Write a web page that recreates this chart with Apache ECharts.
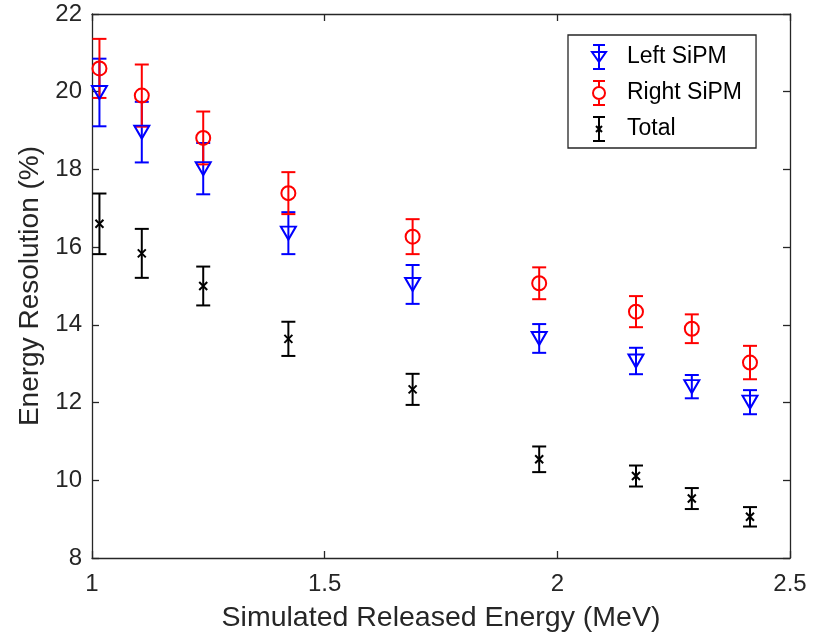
<!DOCTYPE html>
<html>
<head>
<meta charset="utf-8">
<script src="https://cdn.jsdelivr.net/npm/echarts@6/dist/echarts.min.js"></script>
<style>html,body{margin:0;padding:0;background:#fff}#c{width:817px;height:635px}</style>
</head>
<body>
<div id="c"></div>
<script>
const energies = [1.016, 1.107, 1.239, 1.422, 1.689, 1.961, 2.169, 2.289, 2.414];
const leftVals = [19.98, 18.96, 18.02, 16.36, 15.04, 13.65, 13.07, 12.41, 12.01];
const leftErr  = [0.87, 0.78, 0.66, 0.54, 0.50, 0.37, 0.34, 0.30, 0.31];
const rightVals = [20.60, 19.90, 18.81, 17.39, 16.27, 15.07, 14.34, 13.90, 13.03];
const rightErr  = [0.76, 0.80, 0.68, 0.54, 0.45, 0.41, 0.40, 0.37, 0.43];
const totalVals = [16.60, 15.84, 15.00, 13.64, 12.34, 10.54, 10.11, 9.53, 9.06];
const totalErr  = [0.78, 0.63, 0.50, 0.44, 0.40, 0.33, 0.27, 0.27, 0.25];
const xTicks = [1, 1.5, 2, 2.5];
const yTicks = [8, 10, 12, 14, 16, 18, 20, 22];

const AX = '#262626';
const FONT = 'Liberation Sans, Arial, Helvetica, sans-serif';

function errData(vals, errs) {
  return energies.map((x, i) => [x, vals[i] - errs[i], vals[i] + errs[i]]);
}
function ptData(vals) {
  return energies.map((x, i) => [x, vals[i]]);
}
function errSeries(name, color, vals, errs) {
  return {
    name: name, type: 'custom', z: 2,
    data: errData(vals, errs),
    renderItem: function (params, api) {
      const x = api.value(0);
      const p1 = api.coord([x, api.value(1)]);
      const p2 = api.coord([x, api.value(2)]);
      const hw = 7;
      const st = { stroke: color, lineWidth: 2, fill: 'none' };
      return {
        type: 'group',
        children: [
          { type: 'line', shape: { x1: p1[0], y1: p1[1], x2: p2[0], y2: p2[1] }, style: st },
          { type: 'line', shape: { x1: p1[0] - hw, y1: p1[1], x2: p1[0] + hw, y2: p1[1] }, style: st },
          { type: 'line', shape: { x1: p2[0] - hw, y1: p2[1], x2: p2[0] + hw, y2: p2[1] }, style: st }
        ]
      };
    }
  };
}
function markSeries(name, color, vals, symbol, size, rotate) {
  return {
    name: name, type: 'scatter', z: 3,
    data: ptData(vals),
    symbol: symbol, symbolSize: size, symbolRotate: rotate || 0,
    itemStyle: { color: 'rgba(255,255,255,0)', borderColor: color, borderWidth: 2, opacity: 1 },
    emphasis: { disabled: true },
    silent: true
  };
}

const crossPath = 'path://M0,0 L10,10 M10,0 L0,10';
const iconLeft = 'path://M2,0 L14,0 M8,0 L8,24 M2,24 L14,24 M1,7 L15,7 L8,17 Z';
const iconRight = 'path://M2,0 L14,0 M8,0 L8,6 M8,18 L8,24 M2,24 L14,24 M14,12 A6,6 0 1 1 2,12 A6,6 0 1 1 14,12 Z';
const iconTotal = 'path://M2,0 L14,0 M8,0 L8,24 M2,24 L14,24 M5,9 L11,15 M11,9 L5,15';

const chart = echarts.init(document.getElementById('c'), null, { renderer: 'canvas' });
const axisCommon = {
  axisLine: { show: true, lineStyle: { color: AX, width: 1.3 } },
  axisTick: { show: true, inside: true, length: 7, lineStyle: { color: AX, width: 1.3 } },
  splitLine: { show: false }
};
chart.setOption({
  animation: false,
  backgroundColor: '#fff',
  textStyle: { fontFamily: FONT },
  grid: { left: 92, right: 27, top: 14, bottom: 77, containLabel: false, outerBoundsMode: 'none' },
  legend: {
    orient: 'vertical', left: 568, top: 35,
    padding: [9, 14, 6, 23],
    itemWidth: 16, itemHeight: 24, itemGap: 10,
    borderColor: AX, borderWidth: 1.3, backgroundColor: '#fff',
    textStyle: { fontFamily: FONT, fontSize: 23, color: '#000', padding: [0, 0, 0, 15] },
    selectedMode: false,
    data: [
      { name: 'Left SiPM', icon: iconLeft, itemStyle: { color: 'rgba(255,255,255,0)', borderColor: '#0000ff', borderWidth: 2 } },
      { name: 'Right SiPM', icon: iconRight, itemStyle: { color: 'rgba(255,255,255,0)', borderColor: '#ff0000', borderWidth: 2 } },
      { name: 'Total', icon: iconTotal, itemStyle: { color: 'rgba(255,255,255,0)', borderColor: '#000000', borderWidth: 2 } }
    ]
  },
  xAxis: [
    Object.assign({
      type: 'value', min: xTicks[0], max: xTicks[xTicks.length - 1], interval: 0.5,
      name: 'Simulated Released Energy (MeV)', nameLocation: 'middle', nameGap: 46,
      nameTextStyle: { fontSize: 28.5, color: AX, fontFamily: FONT },
      axisLabel: { fontSize: 24, color: AX, margin: 14, fontFamily: FONT,
        formatter: v => String(v) }
    }, axisCommon),
    Object.assign({
      type: 'value', position: 'top', min: xTicks[0], max: xTicks[xTicks.length - 1], interval: 0.5,
      axisLabel: { show: false }
    }, axisCommon)
  ],
  yAxis: [
    Object.assign({
      type: 'value', min: yTicks[0], max: yTicks[yTicks.length - 1], interval: 2,
      name: 'Energy Resolution (%)', nameLocation: 'middle', nameGap: 46,
      nameTextStyle: { fontSize: 28, color: AX, fontFamily: FONT },
      axisLabel: { fontSize: 24, color: AX, margin: 10, fontFamily: FONT }
    }, axisCommon),
    Object.assign({
      type: 'value', position: 'right', min: yTicks[0], max: yTicks[yTicks.length - 1], interval: 2,
      axisLabel: { show: false }
    }, axisCommon)
  ],
  series: [
    errSeries('Left SiPM', '#0000ff', leftVals, leftErr),
    markSeries('Left SiPM', '#0000ff', leftVals, 'triangle', [15, 13], 180),
    errSeries('Right SiPM', '#ff0000', rightVals, rightErr),
    markSeries('Right SiPM', '#ff0000', rightVals, 'circle', 14),
    errSeries('Total', '#000000', totalVals, totalErr),
    markSeries('Total', '#000000', totalVals, crossPath, 8)
  ]
});
</script>
</body>
</html>
